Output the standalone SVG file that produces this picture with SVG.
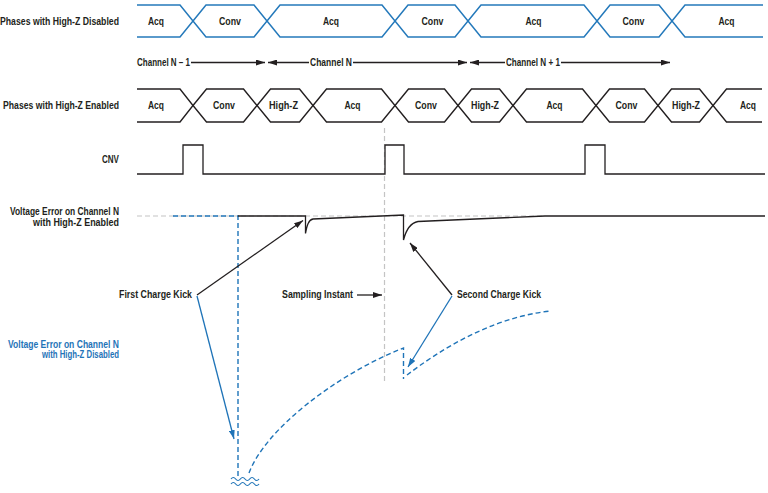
<svg xmlns="http://www.w3.org/2000/svg" width="768" height="493" viewBox="0 0 768 493">
<style>
text{font-family:"Liberation Sans",Arial,sans-serif;font-weight:bold;font-size:10px;fill:#231f20}
.m{text-anchor:middle}
.e{text-anchor:end}
.b{fill:#1f74b8}
.hb{fill:none;stroke:#2479bb;stroke-width:1.5}
.hk{fill:none;stroke:#231f20;stroke-width:1.4}
.k{fill:none;stroke:#231f20;stroke-width:1.3}
.bl{fill:none;stroke:#1f74b8;stroke-width:1.3}
.bd{fill:none;stroke:#1f74b8;stroke-width:1.4;stroke-dasharray:5 3}
.gd{fill:none;stroke:#c4c4c4;stroke-width:1.2;stroke-dasharray:5 3}
</style>
<defs>
<marker id="ak" markerUnits="userSpaceOnUse" markerWidth="10" markerHeight="6" refX="9" refY="3" orient="auto"><path d="M0,0 L9,3 L0,6 z" fill="#231f20"/></marker>
<marker id="ab" markerUnits="userSpaceOnUse" markerWidth="10" markerHeight="6" refX="9" refY="3" orient="auto"><path d="M0,0 L9,3 L0,6 z" fill="#1f74b8"/></marker>
</defs>
<rect width="768" height="493" fill="#fff"/>

<g id="labels">
<text class="e" x="119" y="25" textLength="119" lengthAdjust="spacingAndGlyphs">Phases with High-Z Disabled</text>
<text class="e" x="119" y="109" textLength="116" lengthAdjust="spacingAndGlyphs">Phases with High-Z Enabled</text>
<text class="e" x="119" y="163" textLength="17" lengthAdjust="spacingAndGlyphs">CNV</text>
<text class="e" x="119" y="215" textLength="109" lengthAdjust="spacingAndGlyphs">Voltage Error on Channel N</text>
<text class="e" x="119" y="226" textLength="86" lengthAdjust="spacingAndGlyphs">with High-Z Enabled</text>
<text class="e b" x="119" y="348" textLength="111" lengthAdjust="spacingAndGlyphs">Voltage Error on Channel N</text>
<text class="e b" x="119" y="358" textLength="77" lengthAdjust="spacingAndGlyphs">with High-Z Disabled</text>
</g>

<g id="row-disabled">
<g id="d1"><path class="hb" d="M137,5 H180 L193,21 L180,37 H137"/><text class="m" x="156" y="25" textLength="16" lengthAdjust="spacingAndGlyphs">Acq</text></g>
<g id="d2"><path class="hb" d="M193,21 L206,5 H254 L267,21 L254,37 H206 Z"/><text class="m" x="230" y="25" textLength="22" lengthAdjust="spacingAndGlyphs">Conv</text></g>
<g id="d3"><path class="hb" d="M267,21 L280,5 H382 L395,21 L382,37 H280 Z"/><text class="m" x="331" y="25" textLength="16" lengthAdjust="spacingAndGlyphs">Acq</text></g>
<g id="d4"><path class="hb" d="M395,21 L408,5 H455 L468,21 L455,37 H408 Z"/><text class="m" x="432.5" y="25" textLength="22" lengthAdjust="spacingAndGlyphs">Conv</text></g>
<g id="d5"><path class="hb" d="M468,21 L481,5 H584 L597,21 L584,37 H481 Z"/><text class="m" x="533.5" y="25" textLength="16" lengthAdjust="spacingAndGlyphs">Acq</text></g>
<g id="d6"><path class="hb" d="M597,21 L610,5 H659 L672,21 L659,37 H610 Z"/><text class="m" x="633.5" y="25" textLength="22" lengthAdjust="spacingAndGlyphs">Conv</text></g>
<g id="d7"><path class="hb" d="M763,5 H685 L672,21 L685,37 H763"/><text class="m" x="726.5" y="25" textLength="16" lengthAdjust="spacingAndGlyphs">Acq</text></g>
</g>

<g id="channels">
<text x="137" y="66" textLength="53" lengthAdjust="spacingAndGlyphs">Channel N – 1</text>
<text x="310" y="66" textLength="42" lengthAdjust="spacingAndGlyphs">Channel N</text>
<text x="506" y="66" textLength="54" lengthAdjust="spacingAndGlyphs">Channel N + 1</text>
</g>

<g id="row-enabled">
<g id="e1"><path class="hk" d="M137,89 H180 L193,105.5 L180,122 H137"/><text class="m" x="156" y="109" textLength="16" lengthAdjust="spacingAndGlyphs">Acq</text></g>
<g id="e2"><path class="hk" d="M193,105.5 L206.5,89 H243.5 L257,105.5 L243.5,122 H206.5 Z"/><text class="m" x="224" y="109" textLength="22" lengthAdjust="spacingAndGlyphs">Conv</text></g>
<g id="e3"><path class="hk" d="M257,105.5 L270.5,89 H299.5 L313,105.5 L299.5,122 H270.5 Z"/><text class="m" x="283.5" y="109" textLength="29" lengthAdjust="spacingAndGlyphs">High-Z</text></g>
<g id="e4"><path class="hk" d="M313,105.5 L326.5,89 H381.5 L395,105.5 L381.5,122 H326.5 Z"/><text class="m" x="352.5" y="109" textLength="16" lengthAdjust="spacingAndGlyphs">Acq</text></g>
<g id="e5"><path class="hk" d="M395,105.5 L408.5,89 H444.5 L458,105.5 L444.5,122 H408.5 Z"/><text class="m" x="426" y="109" textLength="22" lengthAdjust="spacingAndGlyphs">Conv</text></g>
<g id="e6"><path class="hk" d="M458,105.5 L471.5,89 H499.5 L513,105.5 L499.5,122 H471.5 Z"/><text class="m" x="485" y="109" textLength="28" lengthAdjust="spacingAndGlyphs">High-Z</text></g>
<g id="e7"><path class="hk" d="M513,105.5 L526.5,89 H582.5 L596,105.5 L582.5,122 H526.5 Z"/><text class="m" x="554.5" y="109" textLength="16" lengthAdjust="spacingAndGlyphs">Acq</text></g>
<g id="e8"><path class="hk" d="M596,105.5 L609.5,89 H644.5 L658,105.5 L644.5,122 H609.5 Z"/><text class="m" x="626.5" y="109" textLength="22" lengthAdjust="spacingAndGlyphs">Conv</text></g>
<g id="e9"><path class="hk" d="M658,105.5 L671.5,89 H699.5 L713,105.5 L699.5,122 H671.5 Z"/><text class="m" x="686" y="109" textLength="28" lengthAdjust="spacingAndGlyphs">High-Z</text></g>
<g id="e10"><path class="hk" d="M762,89 H726.5 L713,105.5 L726.5,122 H762"/><text class="m" x="748" y="109" textLength="16" lengthAdjust="spacingAndGlyphs">Acq</text></g>
</g>

<g id="waveforms">
<path class="gd" d="M384.5,128 V381"/>
<path class="gd" d="M137,216 H545"/>
<path class="k" d="M137,174 H183 V145 H203 V174 H385 V145 H404 V174 H585 V145 H605 V174 H765"/>
<path class="bd" d="M173,216 H238 V476"/>
<path class="k" d="M238,216 H305.5 V233.5 C307,225 308.5,220 313,219 L403.5,215 V240 C406,230 410,223 418,221.5 L545,216 H765"/>
<path class="bd" d="M249,473 C265,430 335,375 403.5,348 V379"/>
<path class="bd" d="M407,375 C440,350 490,318 550,311"/>
<path fill="none" stroke="#1f74b8" stroke-width="1.2" d="M231,479 q2.33,-3 4.67,0 t4.67,0 t4.67,0 t4.67,0 t4.67,0 t4.67,0 M231,484 q2.33,-3 4.67,0 t4.67,0 t4.67,0 t4.67,0 t4.67,0 t4.67,0"/>
</g>

<g id="connectors">
<path class="k" d="M191,62.5 H265" marker-end="url(#ak)"/>
<path class="k" d="M309,62.5 H268" marker-end="url(#ak)"/>
<path class="k" d="M353,62.5 H467" marker-end="url(#ak)"/>
<path class="k" d="M505,62.5 H470" marker-end="url(#ak)"/>
<path class="k" d="M561,62.5 H670" marker-end="url(#ak)"/>
<path class="k" d="M197,295 L303,220.5" marker-end="url(#ak)"/>
<path class="bl" d="M197,296 L234,439" marker-end="url(#ab)"/>
<path class="k" d="M357,295 H382" marker-end="url(#ak)"/>
<path class="k" d="M452,295 L410,243" marker-end="url(#ak)"/>
<path class="bl" d="M452,296 L408,367" marker-end="url(#ab)"/>
</g>

<g id="callouts">
<text x="119" y="298" textLength="73" lengthAdjust="spacingAndGlyphs">First Charge Kick</text>
<text x="282" y="298" textLength="71" lengthAdjust="spacingAndGlyphs">Sampling Instant</text>
<text x="457" y="298" textLength="84" lengthAdjust="spacingAndGlyphs">Second Charge Kick</text>
</g>
</svg>
